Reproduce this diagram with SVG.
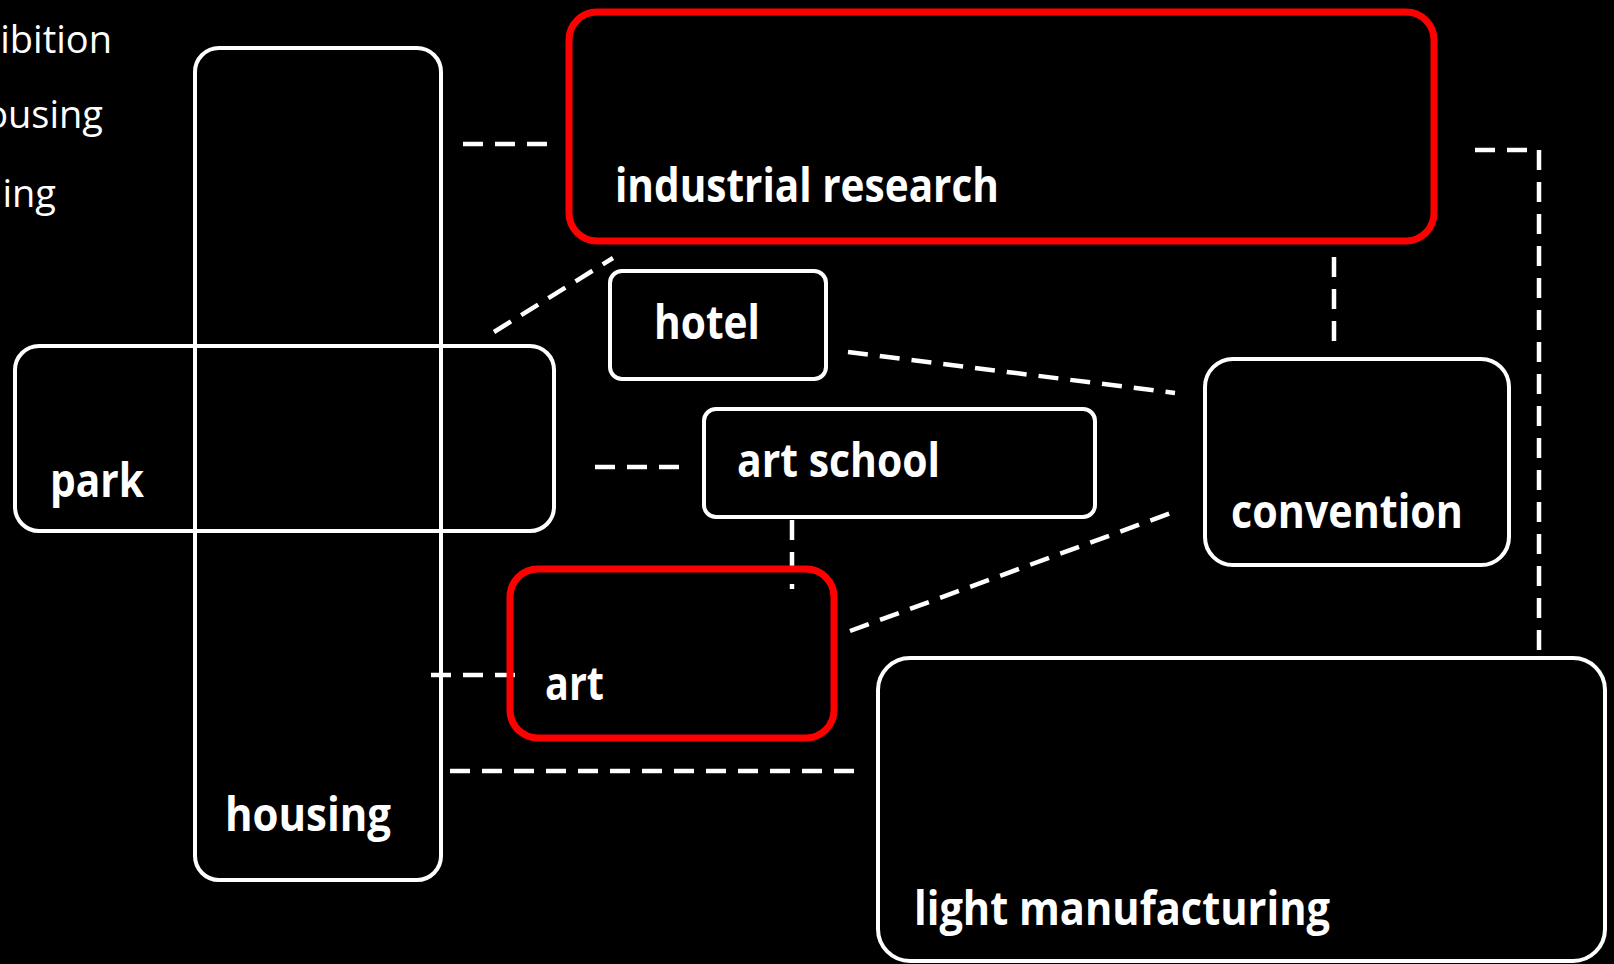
<svg xmlns="http://www.w3.org/2000/svg" width="1614" height="964" viewBox="0 0 1614 964">
<style>
.box{fill:none;stroke:#ffffff;stroke-width:4}
.red{fill:none;stroke:#ff0000;stroke-width:7}
.lbl{font-family:"Open Sans","Noto Sans","Liberation Sans",sans-serif;font-weight:700;font-size:46px;fill:#ffffff}
.side{font-family:"Open Sans","Noto Sans","Liberation Sans",sans-serif;font-weight:500;font-size:38px;fill:#ffffff}
.con{fill:none;stroke:#ffffff;stroke-width:4.5;stroke-dasharray:20 12}
</style>
<rect x="0" y="0" width="1614" height="964" fill="#000000"/>
<g id="side-texts">
<text class="side" x="112" y="53" text-anchor="end">ibition</text>
<text class="side" x="103" y="128" text-anchor="end">ousing</text>
<text class="side" x="56" y="207" text-anchor="end">ing</text>
</g>
<g id="connectors">
<line class="con" x1="463" y1="144" x2="547" y2="144"/>
<line class="con" x1="494" y1="332" x2="613" y2="258"/>
<line class="con" x1="848" y1="352" x2="1175" y2="393"/>
<line class="con" x1="1334" y1="257" x2="1334" y2="342"/>
<path class="con" d="M1475,150 H1539 V652"/>
<line class="con" x1="595" y1="467" x2="680" y2="467"/>
<line class="con" x1="792" y1="520" x2="792" y2="589"/>
<line class="con" x1="850" y1="631" x2="1171" y2="513"/>
<line class="con" x1="431" y1="675" x2="516" y2="675"/>
<line class="con" x1="450" y1="771" x2="854" y2="771"/>
</g>
<g id="housing">
<rect class="box" x="195" y="48" width="246" height="832" rx="24"/>
<text class="lbl" x="225" y="831" textLength="166" lengthAdjust="spacingAndGlyphs">housing</text>
</g>
<g id="park">
<rect class="box" x="15" y="346" width="539" height="185" rx="24"/>
<text class="lbl" x="50" y="497" textLength="94" lengthAdjust="spacingAndGlyphs">park</text>
</g>
<g id="industrial-research">
<rect class="red" x="569" y="12" width="865" height="229" rx="28"/>
<text class="lbl" x="615" y="202" textLength="384" lengthAdjust="spacingAndGlyphs">industrial research</text>
</g>
<g id="hotel">
<rect class="box" x="610" y="271" width="216" height="108" rx="12"/>
<text class="lbl" x="654" y="339" textLength="106" lengthAdjust="spacingAndGlyphs">hotel</text>
</g>
<g id="art-school">
<rect class="box" x="704" y="409" width="391" height="108" rx="12"/>
<text class="lbl" x="737" y="477" textLength="203" lengthAdjust="spacingAndGlyphs">art school</text>
</g>
<g id="convention">
<rect class="box" x="1205" y="359" width="304" height="206" rx="28"/>
<text class="lbl" x="1231" y="528" textLength="232" lengthAdjust="spacingAndGlyphs">convention</text>
</g>
<g id="art">
<rect class="red" x="510" y="569" width="324" height="169" rx="28"/>
<text class="lbl" x="545" y="700" textLength="59" lengthAdjust="spacingAndGlyphs">art</text>
</g>
<g id="light-manufacturing">
<rect class="box" x="878" y="658" width="727" height="303" rx="32"/>
<text class="lbl" x="914" y="925" textLength="416" lengthAdjust="spacingAndGlyphs">light manufacturing</text>
</g>
</svg>
